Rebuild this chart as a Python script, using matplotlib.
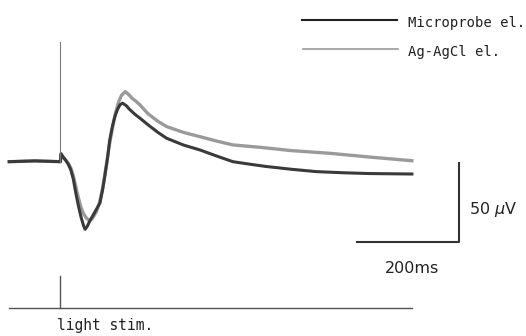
import matplotlib.pyplot as plt

# time (ms, stimulus at 0) and amplitude (uV)
probe_t = [-100, -50, 0, 1, 5, 10, 15, 20, 25, 30, 35, 40, 45, 48, 52, 58, 65, 72, 77,
           82, 87, 92, 96, 101, 106, 111, 116, 121, 128, 135, 145, 155, 170, 190, 207,
           240, 272, 305, 336, 369, 400, 450, 499, 550, 600, 685]
probe_uv = [0, 0.5, 0, 5, 3, 1, -1.5, -5, -11, -20, -28, -35, -40.5, -42.8, -41, -37, -33,
            -29, -26, -18, -8, 3, 13.7, 22, 28.5, 33, 36, 37, 35.5, 33, 30, 27.5, 23.5,
            18.5, 14.8, 10.5, 7.4, 3.5, 0, -1.6, -3, -4.8, -6.3, -7, -7.5, -7.8]

agcl_t = [-100, -50, 0, 1, 5, 10, 15, 20, 25, 30, 35, 40, 45, 50, 55, 58, 62, 70, 76,
          82, 86, 90, 95, 100, 104, 108, 113, 119, 126, 133, 140, 148, 155, 170, 190,
          207, 240, 272, 305, 336, 389, 450, 525, 600, 685]
agcl_uv = [0, 0.5, 0, 5, 3, 1, -1, -4, -9, -16, -23, -29, -33, -35.5, -37, -37, -36,
           -31.6, -26, -17, -9, -0.8, 10, 19, 26, 31.6, 37.5, 42, 44.3, 42.5, 40, 38,
           35.9, 30.5, 25.5, 22.2, 18.5, 15.8, 13, 10.6, 9.1, 7, 5.3, 3, 0.6]

artifact_uv = 76
stim_t = 0
scale_ms = 200
scale_uv = 50
legend_names = ["Microprobe el.", "Ag-AgCl el."]

fig = plt.figure(figsize=(5.26, 3.36), dpi=100)
ax = fig.add_axes([0, 0, 1, 1])
ax.set_xlim(-117.9, 907.4)
ax.set_ylim(-110.3, 102.3)
ax.axis("off")

ax.plot(agcl_t, agcl_uv, color="#9a9a9a", lw=2.4, solid_joinstyle="round")
ax.plot(probe_t, probe_uv, color="#3a3a3a", lw=2.2, solid_joinstyle="round")
ax.plot([stim_t, stim_t], [0, artifact_uv], color="#7a7a7a", lw=0.8)

# stimulus marker
ax.plot([probe_t[0], probe_t[-1]], [-92.4, -92.4], color="#555555", lw=1.0)
ax.plot([stim_t, stim_t], [-92.4, -72.3], color="#555555", lw=1.0)
ax.text(-6, -103.5, "light stim.", family="DejaVu Sans Mono", fontsize=10.5,
        color="#222222", ha="left", va="center")

# scale bar
x0 = 777.4
y0 = -50.6
ax.plot([x0 - scale_ms, x0, x0], [y0, y0, y0 + scale_uv], color="#333333", lw=1.5)
ax.text(x0 - scale_ms / 2 + 8, -67.8, f"{scale_ms}ms", fontsize=11.5,
        color="#222222", ha="center", va="center")
ax.text(796, -30.0, f"{scale_uv} $\\mu$V", fontsize=11.5, color="#222222",
        ha="left", va="center")

# legend
fig.add_artist(plt.Line2D([0.5736, 0.7542], [0.9405, 0.9405], color="#222222", lw=1.5))
fig.add_artist(plt.Line2D([0.576, 0.757], [0.854, 0.854], color="#9a9a9a", lw=1.2))
fig.text(0.776, 0.931, legend_names[0], family="DejaVu Sans Mono", fontsize=10,
         color="#222222", va="center")
fig.text(0.776, 0.846, legend_names[1], family="DejaVu Sans Mono", fontsize=10,
         color="#222222", va="center")

fig.savefig("out.png", dpi=100)
